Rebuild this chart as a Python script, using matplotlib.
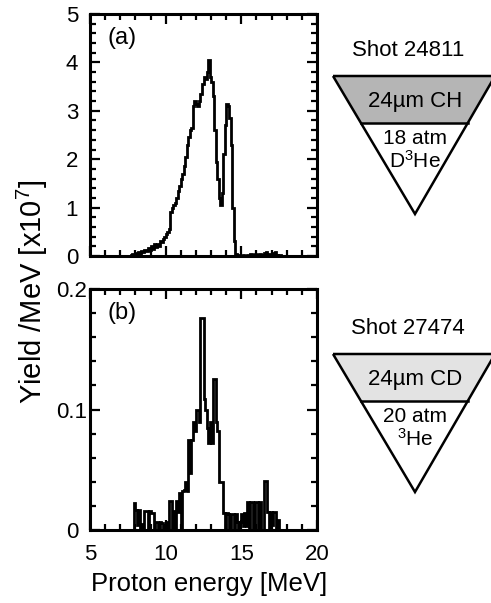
import numpy as np
import matplotlib
matplotlib.use("Agg")
import matplotlib.pyplot as plt
from matplotlib.ticker import MultipleLocator, FixedLocator
from matplotlib.patches import Polygon

plt.rcParams['font.family'] = ['Liberation Sans', 'DejaVu Sans']
plt.rcParams['mathtext.default'] = 'regular'

# histogram bins (lower edges, 0.1 MeV wide)
bin_width = 0.1
start_a = 7.5
yield_a = [0, 0, 0.02, 0.05, 0.02, 0.06, 0.04, 0.08, 0.05, 0.10,
           0.08, 0.12, 0.10, 0.16, 0.12, 0.20, 0.15, 0.25, 0.18, 0.25,
           0.20, 0.30, 0.28, 0.35, 0.40, 0.45, 0.50, 0.55, 0.90, 1.00,
           1.05, 1.10, 1.20, 1.35, 1.45, 1.60, 1.70, 1.85, 2.05, 2.30,
           2.45, 2.60, 2.65, 3.10, 3.20, 3.15, 3.10, 3.20, 3.35, 3.55,
           3.70, 3.65, 3.80, 4.05, 3.70, 3.60, 3.30, 2.60, 1.95, 1.60,
           1.20, 1.05, 1.30, 2.10, 2.70, 3.15, 3.10, 2.85, 2.30, 1.00,
           0.30, 0.05, 0.0, 0.02, 0.0, 0.0, 0.02, 0.0, 0.0, 0.03,
           0.0, 0.05, 0.02, 0.0, 0.04, 0.0, 0.03, 0.05, 0.0, 0.02,
           0.06, 0.08, 0.03, 0.05, 0.0, 0.04, 0.06, 0.08, 0.02, 0.0,
           0.03, 0.0, 0.0]

start_b = 7.8
yield_b = [0.0, 0.022, 0.017, 0.004, 0.017, 0.0, 0.005, 0.0, 0.016, 0.016,
           0.0, 0.016, 0.014, 0.014, 0.0, 0.007, 0.007, 0.0, 0.007, 0.006,
           0.0, 0.004, 0.007, 0.0, 0.024, 0.024, 0.0, 0.016, 0.0, 0.024,
           0.015, 0.031, 0.0, 0.032, 0.033, 0.040, 0.032, 0.075, 0.047, 0.075,
           0.090, 0.082, 0.100, 0.100, 0.090, 0.176, 0.176, 0.109, 0.100, 0.085,
           0.072, 0.090, 0.072, 0.125, 0.125, 0.090, 0.082, 0.040, 0.040, 0.040,
           0.014, 0.0, 0.014, 0.013, 0.0, 0.013, 0.013, 0.0, 0.013, 0.007,
           0.0, 0.007, 0.013, 0.003, 0.014, 0.003, 0.023, 0.0, 0.023, 0.023,
           0.0, 0.023, 0.023, 0.0, 0.023, 0.0, 0.0, 0.041, 0.041, 0.015,
           0.0, 0.015, 0.004, 0.015, 0.015, 0.0, 0.008, 0.0, 0.0, 0.0]

panel_labels = ["(a)", "(b)"]
shots = ["Shot 24811", "Shot 27474"]
shells = ["24µm CH", "24µm CD"]
fills = [["18 atm", "D$^3$He"], ["20 atm", "$^3$He"]]
shell_colors = ["#b5b5b5", "#e3e3e3"]

fig = plt.figure(figsize=(4.91, 6.03), dpi=100)
W, H = 491, 603

ax_a = fig.add_axes([90 / W, 1 - 256 / H, 227 / W, 242 / H])
ax_b = fig.add_axes([90 / W, 1 - 530 / H, 227 / W, 241 / H])

edges_a = start_a + bin_width * np.arange(len(yield_a) + 1)
edges_b = start_b + bin_width * np.arange(len(yield_b) + 1)
ax_a.stairs(yield_a, edges_a, color='black', lw=2.0)
ax_b.stairs(yield_b, edges_b, color='black', lw=2.0)

for ax in (ax_a, ax_b):
    ax.set_xlim(5, 20)
    ax.xaxis.set_major_locator(MultipleLocator(5))
    ax.xaxis.set_minor_locator(MultipleLocator(1))
    ax.tick_params(which='both', direction='in', top=True, right=True,
                   width=1.6, labelsize=16)
    ax.tick_params(axis='x', pad=10)
    ax.tick_params(axis='y', pad=13)
    ax.tick_params(which='major', length=7)
    ax.tick_params(which='minor', length=4)
    for s in ax.spines.values():
        s.set_linewidth(2.2)

ax_a.set_ylim(0, 5)
ax_a.yaxis.set_major_locator(MultipleLocator(1))
ax_a.yaxis.set_minor_locator(MultipleLocator(0.2))
ax_a.tick_params(labelbottom=False)

ax_b.set_ylim(0, 0.2)
ax_b.yaxis.set_major_locator(FixedLocator([0, 0.1, 0.2]))
ax_b.yaxis.set_minor_locator(MultipleLocator(0.02))
ax_b.set_yticklabels(["0", "0.1", "0.2"])

for ax in (ax_a, ax_b):
    for lab in ax.get_yticklabels():
        lab.set_horizontalalignment('center')

fig.text(209 / W, 1 - 584 / H, "Proton energy [MeV]", fontsize=18.5,
         ha='center', va='center')
fig.text(32 / W, 1 - 292 / H, "Yield /MeV [x10$^7$]", rotation=90,
         fontsize=21, ha='center', va='center')

ax_a.text(0.075, 0.9, panel_labels[0], transform=ax_a.transAxes, fontsize=17, va='center')
ax_b.text(0.075, 0.9, panel_labels[1], transform=ax_b.transAxes, fontsize=17, va='center')

# target diagrams drawn in pixel space
ov = fig.add_axes([0, 0, 1, 1])
ov.set_xlim(0, W)
ov.set_ylim(H, 0)
ov.axis('off')

tri_tops = [76, 354]
for i, top in enumerate(tri_tops):
    left, right, apex_x = 333, 495, 415
    apex_y = top + 138
    band_y = top + 47
    frac = (band_y - top) / (apex_y - top)
    bl = left + (apex_x - left) * frac
    br = right + (apex_x - right) * frac
    ov.add_patch(Polygon([[left, top], [right, top], [br, band_y], [bl, band_y]],
                         closed=True, facecolor=shell_colors[i], edgecolor='none'))
    ov.add_patch(Polygon([[left, top], [right, top], [apex_x, apex_y]],
                         closed=True, facecolor='none', edgecolor='black', lw=1.8))
    ov.plot([bl, br], [band_y, band_y], color='black', lw=1.8)
    ov.text(408, top - 25, shots[i], fontsize=16, ha='center', va='center')
    ov.text(apex_x, top + 25, shells[i], fontsize=16, ha='center', va='center')
    ov.text(apex_x, top + 63, fills[i][0], fontsize=15, ha='center', va='center')
    ov.text(apex_x, top + 85, fills[i][1], fontsize=15, ha='center', va='center')

fig.savefig("out.png", dpi=100)
